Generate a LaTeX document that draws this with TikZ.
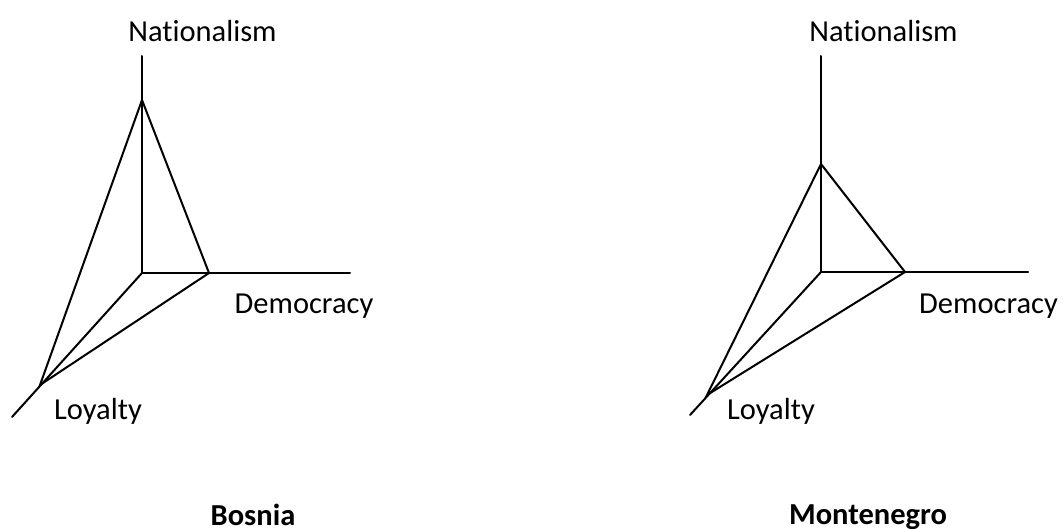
\documentclass[tikz,border=0pt]{standalone}
\usepackage{fontspec}
\setmainfont[Ligatures=NoCommon]{Carlito}
\begin{document}
\begin{tikzpicture}[x=1pt,y=-1pt,
  ax/.style={line width=2pt,line cap=round},
  lbl/.style={anchor=base,inner sep=0pt,font=\fontsize{30.5}{36}\selectfont},
  ttl/.style={anchor=base,inner sep=0pt,font=\fontsize{30.5}{36}\selectfont\bfseries}]
\useasboundingbox (0,0) rectangle (1064,529);
% Bosnia
\coordinate (bO) at (142,273);
\coordinate (bNt) at (142,56);
\coordinate (bN) at (142,100);
\coordinate (bDt) at (350,273);
\coordinate (bD) at (209,273);
\coordinate (bLt) at (12,417);
\coordinate (bL) at (40,385);
\draw[ax] (bNt) -- (bO) -- (bDt);
\draw[ax] (bO) -- (bLt);
\draw[ax,line join=miter] (bN) -- (bD) -- (bL) -- cycle;
\node[lbl] (bNl) at (202.5,42) {Nationalism};
\node[lbl] (bDl) at (304,313) {Democracy};
\node[lbl] (bLl) at (98,419) {Loyalty};
\node[ttl] (bT) at (253,525) {Bosnia};
% Montenegro
\coordinate (mO) at (821,272);
\coordinate (mNt) at (821,56);
\coordinate (mN) at (821,164);
\coordinate (mDt) at (1028,272);
\coordinate (mD) at (905,272);
\coordinate (mLt) at (690,415);
\coordinate (mL) at (707,395);
\draw[ax] (mNt) -- (mO) -- (mDt);
\draw[ax] (mO) -- (mLt);
\draw[ax,line join=miter] (mN) -- (mD) -- (mL) -- cycle;
\node[lbl] (mNl) at (883.5,42) {Nationalism};
\node[lbl] (mDl) at (988.5,313) {Democracy};
\node[lbl] (mLl) at (771,419) {Loyalty};
\node[ttl] (mT) at (868,524) {Montenegro};
\end{tikzpicture}
\end{document}
